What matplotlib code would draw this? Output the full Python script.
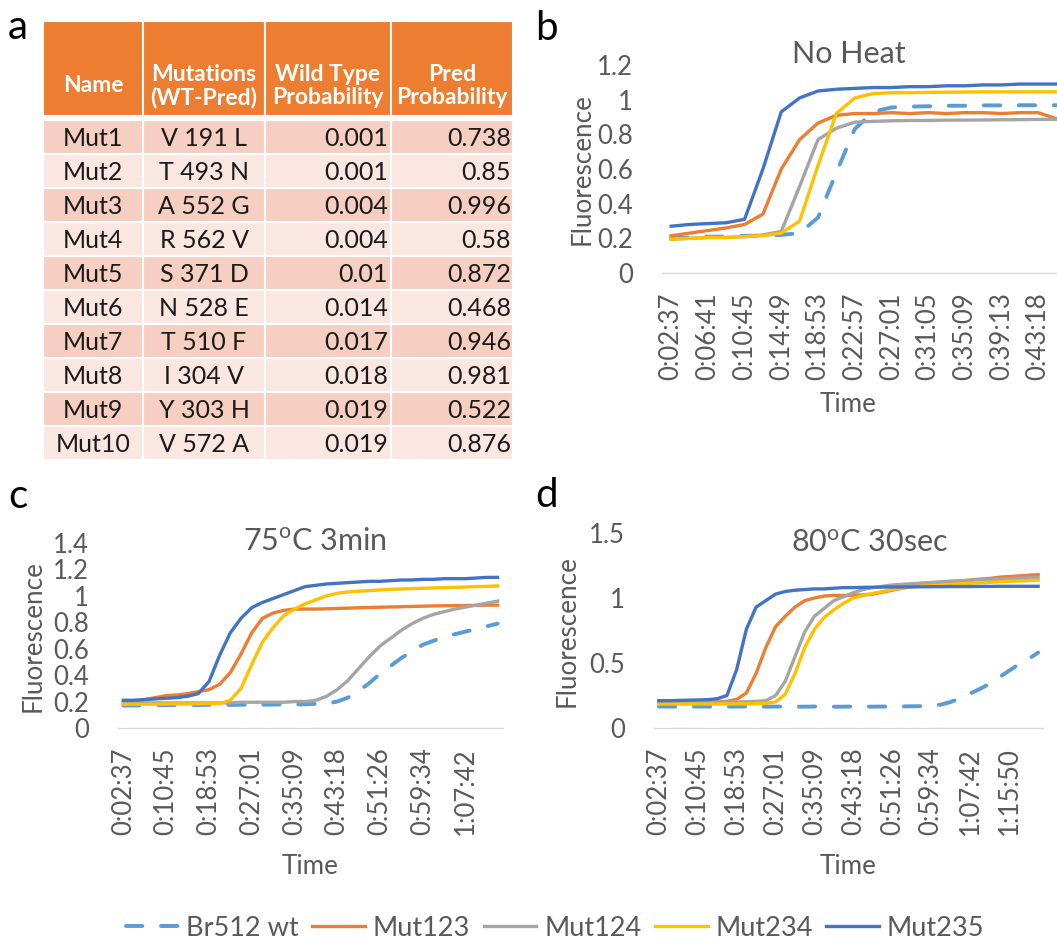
import matplotlib
matplotlib.use('Agg')
import matplotlib.pyplot as plt
from matplotlib.patches import Rectangle
from matplotlib.lines import Line2D

plt.rcParams['font.family'] = ['Lato', 'DejaVu Sans']
plt.rcParams['mathtext.fontset'] = 'custom'
plt.rcParams['mathtext.rm'] = 'Lato'
plt.rcParams['mathtext.it'] = 'Lato:italic'
plt.rcParams['mathtext.bf'] = 'Lato:bold'

# ---------------- data ----------------
table_header = ["Name", "Mutations\n(WT-Pred)", "Wild Type\nProbability", "Pred\nProbability"]
names = ["Mut1", "Mut2", "Mut3", "Mut4", "Mut5", "Mut6", "Mut7", "Mut8", "Mut9", "Mut10"]
mutations = ["V 191 L", "T 493 N", "A 552 G", "R 562 V", "S 371 D", "N 528 E",
             "T 510 F", "I 304 V", "Y 303 H", "V 572 A"]
wt_prob = ["0.001", "0.001", "0.004", "0.004", "0.01", "0.014", "0.017", "0.018", "0.019", "0.019"]
pred_prob = ["0.738", "0.85", "0.996", "0.58", "0.872", "0.468", "0.946", "0.981", "0.522", "0.876"]

series_names = ["Br512 wt", "Mut123", "Mut124", "Mut234", "Mut235"]

# Panel b: No Heat
b_labels = ["0:02:37", "0:06:41", "0:10:45", "0:14:49", "0:18:53", "0:22:57",
            "0:27:01", "0:31:05", "0:35:09", "0:39:13", "0:43:18"]
b_wt = [0.20, 0.205, 0.21, 0.21, 0.215, 0.215, 0.22, 0.23, 0.32, 0.58, 0.83, 0.93,
        0.955, 0.96, 0.962, 0.965, 0.965, 0.967, 0.967, 0.968, 0.968, 0.968]
b_123 = [0.215, 0.23, 0.245, 0.26, 0.28, 0.34, 0.60, 0.77, 0.865, 0.91, 0.92, 0.92,
         0.925, 0.92, 0.925, 0.92, 0.925, 0.925, 0.92, 0.925, 0.925, 0.89]
b_124 = [0.195, 0.20, 0.205, 0.205, 0.21, 0.22, 0.24, 0.50, 0.77, 0.835, 0.87, 0.875,
         0.878, 0.88, 0.88, 0.882, 0.882, 0.883, 0.884, 0.885, 0.886, 0.886]
b_234 = [0.195, 0.20, 0.205, 0.205, 0.21, 0.215, 0.23, 0.30, 0.62, 0.92, 1.01, 1.035,
         1.04, 1.04, 1.042, 1.043, 1.044, 1.045, 1.045, 1.045, 1.045, 1.045]
b_235 = [0.27, 0.28, 0.285, 0.29, 0.31, 0.60, 0.93, 1.01, 1.05, 1.06, 1.065, 1.07,
         1.07, 1.075, 1.075, 1.08, 1.08, 1.085, 1.085, 1.09, 1.09, 1.09]

# Panel c: 75 C 3min
c_labels = ["0:02:37", "0:10:45", "0:18:53", "0:27:01", "0:35:09", "0:43:18",
            "0:51:26", "0:59:34", "1:07:42"]
c_wt = [0.17, 0.17, 0.172, 0.172, 0.173, 0.173, 0.174, 0.174, 0.175, 0.175, 0.175, 0.176,
        0.176, 0.177, 0.177, 0.178, 0.178, 0.18, 0.182, 0.185, 0.20, 0.23, 0.28, 0.34,
        0.41, 0.47, 0.53, 0.58, 0.63, 0.66, 0.69, 0.71, 0.73, 0.75, 0.77, 0.79]
c_123 = [0.20, 0.205, 0.215, 0.23, 0.245, 0.25, 0.26, 0.275, 0.29, 0.33, 0.42, 0.56,
         0.72, 0.83, 0.87, 0.89, 0.90, 0.90, 0.90, 0.902, 0.905, 0.907, 0.91, 0.912,
         0.914, 0.916, 0.918, 0.92, 0.922, 0.924, 0.925, 0.926, 0.927, 0.928, 0.93, 0.93]
c_124 = [0.19, 0.19, 0.19, 0.19, 0.19, 0.19, 0.19, 0.19, 0.19, 0.19, 0.19, 0.195,
         0.195, 0.195, 0.195, 0.195, 0.20, 0.20, 0.21, 0.24, 0.29, 0.36, 0.45, 0.54,
         0.62, 0.68, 0.74, 0.79, 0.83, 0.86, 0.88, 0.90, 0.915, 0.93, 0.945, 0.96]
c_234 = [0.18, 0.18, 0.18, 0.18, 0.182, 0.182, 0.182, 0.183, 0.184, 0.185, 0.21, 0.30,
         0.48, 0.65, 0.76, 0.85, 0.90, 0.94, 0.97, 1.00, 1.02, 1.03, 1.035, 1.04,
         1.045, 1.05, 1.052, 1.055, 1.057, 1.06, 1.062, 1.065, 1.067, 1.07, 1.072, 1.075]
c_235 = [0.21, 0.21, 0.215, 0.22, 0.225, 0.23, 0.24, 0.26, 0.35, 0.55, 0.72, 0.83,
         0.91, 0.95, 0.98, 1.01, 1.04, 1.07, 1.08, 1.09, 1.095, 1.10, 1.105, 1.11,
         1.11, 1.115, 1.12, 1.12, 1.125, 1.125, 1.13, 1.13, 1.13, 1.135, 1.14, 1.14]

# Panel d: 80 C 30sec
d_labels = ["0:02:37", "0:10:45", "0:18:53", "0:27:01", "0:35:09", "0:43:18",
            "0:51:26", "0:59:34", "1:07:42", "1:15:50"]
d_wt = [0.165, 0.165, 0.164, 0.164, 0.165, 0.165, 0.164, 0.164, 0.165, 0.165, 0.164, 0.164,
        0.165, 0.165, 0.164, 0.164, 0.165, 0.165, 0.164, 0.164, 0.165, 0.165, 0.164, 0.165,
        0.165, 0.166, 0.167, 0.168, 0.172, 0.18, 0.20, 0.23, 0.265, 0.30, 0.34, 0.39,
        0.44, 0.49, 0.53, 0.58]
d_123 = [0.20, 0.20, 0.20, 0.20, 0.20, 0.20, 0.20, 0.205, 0.22, 0.27, 0.42, 0.62,
         0.78, 0.86, 0.93, 0.98, 1.00, 1.015, 1.02, 1.02, 1.02, 1.025, 1.03, 1.045,
         1.06, 1.075, 1.09, 1.10, 1.11, 1.115, 1.12, 1.13, 1.138, 1.145, 1.15, 1.16,
         1.165, 1.17, 1.175, 1.18]
d_124 = [0.20, 0.20, 0.20, 0.20, 0.20, 0.20, 0.20, 0.20, 0.20, 0.202, 0.205, 0.21,
         0.25, 0.36, 0.55, 0.74, 0.86, 0.92, 0.98, 1.01, 1.04, 1.065, 1.08, 1.09,
         1.10, 1.105, 1.11, 1.115, 1.12, 1.125, 1.13, 1.133, 1.136, 1.14, 1.143, 1.146,
         1.149, 1.152, 1.155, 1.158]
d_234 = [0.185, 0.185, 0.185, 0.185, 0.185, 0.185, 0.185, 0.185, 0.186, 0.186, 0.187, 0.19,
         0.20, 0.26, 0.42, 0.62, 0.76, 0.85, 0.91, 0.96, 1.00, 1.02, 1.035, 1.05,
         1.065, 1.075, 1.085, 1.09, 1.095, 1.10, 1.105, 1.11, 1.113, 1.117, 1.12, 1.125,
         1.128, 1.131, 1.134, 1.138]
d_235 = [0.21, 0.21, 0.212, 0.214, 0.216, 0.218, 0.225, 0.25, 0.45, 0.76, 0.93, 0.98,
         1.03, 1.05, 1.06, 1.065, 1.07, 1.07, 1.075, 1.08, 1.08, 1.082, 1.083, 1.084,
         1.085, 1.085, 1.086, 1.086, 1.087, 1.087, 1.088, 1.088, 1.088, 1.089, 1.089, 1.09,
         1.09, 1.09, 1.09, 1.09]

# ---------------- styling ----------------
W, H = 1057, 939
GRAY_TXT = '#595959'
styles = [
    dict(color='#5B9BD5', lw=2.8, linestyle=(0, (4.2, 4.8)), dash_capstyle='round'),
    dict(color='#ED7D31', lw=2.4),
    dict(color='#A5A5A5', lw=2.4),
    dict(color='#FFC000', lw=2.4),
    dict(color='#4472C4', lw=2.4),
]
TICK_FS = 18.5
LABEL_FS = 18.7
TITLE_FS = 22

fig = plt.figure(figsize=(W / 100, H / 100), dpi=100)
bg = fig.add_axes([0, 0, 1, 1])
bg.set_xlim(0, W)
bg.set_ylim(H, 0)
bg.axis('off')


def ax_px(l, t, r, b):
    return fig.add_axes([l / W, 1 - b / H, (r - l) / W, (b - t) / H])


# ---------------- table (panel a) ----------------
col_edges = [43, 143, 265, 391, 513]
head_top, head_bot = 21, 116
row_top, row_h = 120, 34
for j in range(4):
    bg.add_patch(Rectangle((col_edges[j], head_top), col_edges[j + 1] - col_edges[j],
                           head_bot - head_top, facecolor='#ED7D31', edgecolor='white', lw=1.5))
    bg.text((col_edges[j] + col_edges[j + 1]) / 2, 86, table_header[j], ha='center', va='center',
            color='white', fontsize=16.5, fontweight='bold', linespacing=1.1)
for i in range(len(names)):
    y0 = row_top + i * row_h
    fc = '#F6CFC2' if i % 2 == 0 else '#FBE7E1'
    for j in range(4):
        bg.add_patch(Rectangle((col_edges[j], y0), col_edges[j + 1] - col_edges[j], row_h,
                               facecolor=fc, edgecolor='white', lw=1.5))
    yc = y0 + row_h / 2 + 1
    kw = dict(va='center', fontsize=18, color='#1a1a1a')
    bg.text((col_edges[0] + col_edges[1]) / 2, yc, names[i], ha='center', **kw)
    bg.text((col_edges[1] + col_edges[2]) / 2, yc, mutations[i], ha='center', **kw)
    bg.text(col_edges[3] - 3, yc, wt_prob[i], ha='right', **kw)
    bg.text(col_edges[4] - 2, yc, pred_prob[i], ha='right', **kw)

# ---------------- charts ----------------
def chart(ax, data, ymax, ystep, xlabels, step):
    n = len(data[0])
    for vals, st in zip(data, styles):
        ax.plot(range(n), vals, **st)
    ax.set_xlim(-0.5, n - 0.5)
    ax.set_ylim(0, ymax)
    yt = []
    v = 0.0
    while v <= ymax + 1e-9:
        yt.append(round(v, 2))
        v += ystep
    ax.set_yticks(yt)
    ax.set_yticklabels([f'{t:g}' for t in yt])
    ax.set_xticks(range(0, step * len(xlabels), step))
    ax.set_xticklabels(xlabels, rotation=90)
    for s in ['top', 'right', 'left']:
        ax.spines[s].set_visible(False)
    ax.spines['bottom'].set_color('#D9D9D9')
    ax.spines['bottom'].set_linewidth(1.0)
    ax.tick_params(axis='y', length=0, pad=21, labelsize=TICK_FS, labelcolor=GRAY_TXT)
    ax.tick_params(axis='x', length=0, pad=14, labelsize=TICK_FS, labelcolor=GRAY_TXT)
    ax.set_facecolor('none')


axb = ax_px(662, 65, 662 + 22 * 18.35, 273)
chart(axb, [b_wt, b_123, b_124, b_234, b_235], 1.2, 0.2, b_labels, 2)
axc = ax_px(118, 543, 503, 728)
chart(axc, [c_wt, c_123, c_124, c_234, c_235], 1.4, 0.2, c_labels, 4)
axd = ax_px(654, 533, 1043, 728)
chart(axd, [d_wt, d_123, d_124, d_234, d_235], 1.5, 0.5, d_labels, 4)

# titles, axis labels, panel letters
tkw = dict(ha='center', va='center', color=GRAY_TXT, fontsize=TITLE_FS)
bg.text(849, 54, "No Heat", **tkw)
bg.text(315, 541, r"75$^{\mathrm{o}}$C 3min", **tkw)
bg.text(870, 543, r"80$^{\mathrm{o}}$C 30sec", **tkw)

lkw = dict(ha='center', va='center', color=GRAY_TXT, fontsize=LABEL_FS)
bg.text(848, 404, "Time", **lkw)
bg.text(310, 867, "Time", **lkw)
bg.text(848, 867, "Time", **lkw)
bg.text(582, 169, "Fluorescence", rotation=90, **lkw)
bg.text(33, 636, "Fluorescence", rotation=90, **lkw)
bg.text(567, 631, "Fluorescence", rotation=90, **lkw)

pkw = dict(ha='left', va='baseline', color='black', fontsize=29)
bg.text(8, 39, "a", **pkw)
bg.text(535, 40, "b", **pkw)
bg.text(8, 508, "c", **pkw)
bg.text(535, 507, "d", **pkw)

# legend
handles = [Line2D([], [], **st) for st in styles]
leg = fig.legend(handles, series_names, loc='center', bbox_to_anchor=(555 / W, 1 - 928 / H),
                 ncol=5, frameon=False, fontsize=19.5, handlelength=1.95, handletextpad=0.28,
                 columnspacing=0.5, labelcolor=GRAY_TXT)

fig.savefig('out.png', dpi=100)
